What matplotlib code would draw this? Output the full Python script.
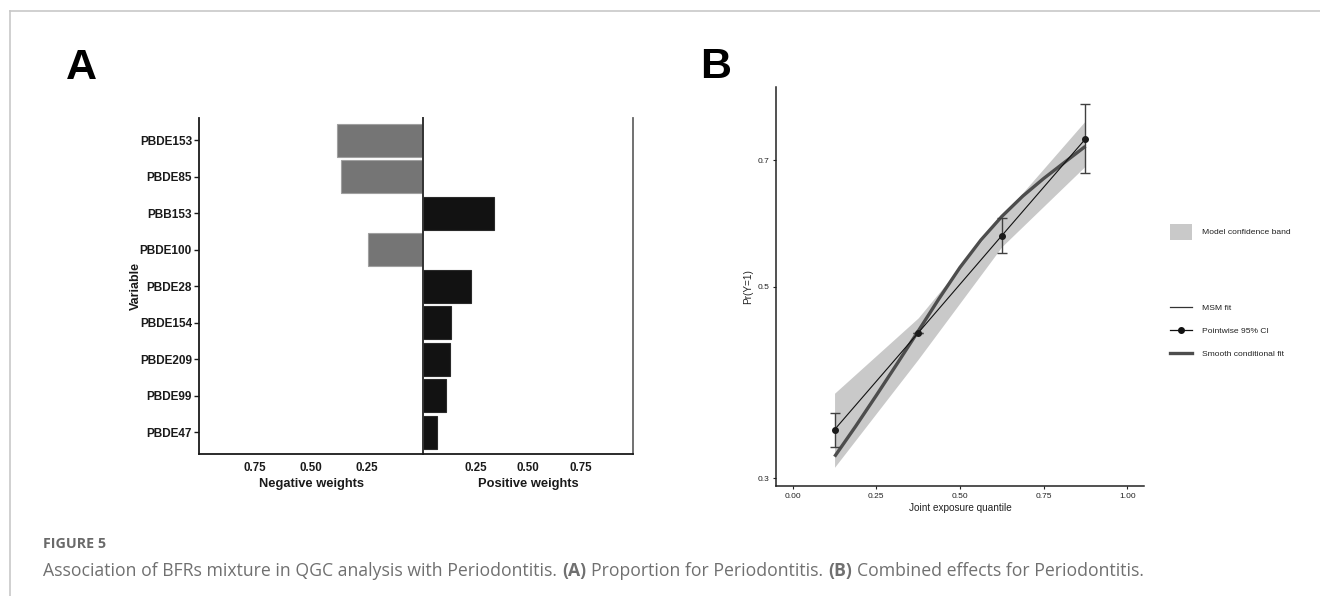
import matplotlib

matplotlib.use("Agg")
import matplotlib.pyplot as plt
import numpy as np
from matplotlib.lines import Line2D
from matplotlib.patches import Patch

# === Data ===

# Panel A: qgcomp weights
variables = ["PBDE153", "PBDE85", "PBB153", "PBDE100", "PBDE28",
             "PBDE154", "PBDE209", "PBDE99", "PBDE47"]
neg_vars = ["PBDE153", "PBDE85", "PBDE100"]
neg_w = [0.385, 0.366, 0.249]
pos_vars = ["PBB153", "PBDE28", "PBDE154", "PBDE209", "PBDE99", "PBDE47"]
pos_w = [0.340, 0.229, 0.131, 0.126, 0.108, 0.066]
weight_ticks = [0.25, 0.50, 0.75]

# Panel B: combined effect (log scale y)
quantiles = [0.125, 0.375, 0.625, 0.875]
pr_hat = [0.3415, 0.4420, 0.5728, 0.7413]
ci_low = [0.3261, 0.4420, 0.5469, 0.6763]
ci_high = [0.3573, 0.4420, 0.5999, 0.8134]
band_low = [0.3089, 0.412, 0.5562, 0.6897]
band_high = [0.3763, 0.460, 0.6025, 0.7781]
smooth_q = [0.125, 0.1875, 0.25, 0.3125, 0.375, 0.4375, 0.5,
            0.5625, 0.625, 0.6875, 0.75, 0.8125, 0.875]
smooth_pr = [0.3178, 0.3443, 0.3742, 0.4074, 0.4440, 0.4844, 0.5263,
             0.5661, 0.6029, 0.6364, 0.6670, 0.6964, 0.7269]
x_ticks_b = [0.00, 0.25, 0.50, 0.75, 1.00]
y_ticks_b = [0.3, 0.5, 0.7]

caption_title = "FIGURE 5"
caption_parts = [
    ("Association of BFRs mixture in QGC analysis with Periodontitis.", "normal"),
    ("(A)", "bold"),
    ("Proportion for Periodontitis.", "normal"),
    ("(B)", "bold"),
    ("Combined effects for Periodontitis.", "normal"),
]

NARROW = ["Liberation Sans Narrow", "Liberation Sans", "DejaVu Sans"]
SANS = ["Liberation Sans", "DejaVu Sans"]

W, H = 1320, 596
fig = plt.figure(figsize=(W / 100, H / 100), dpi=100)


def fx(px):
    return px / W


def fy(py):
    return 1 - py / H


# === Panel A ===
a_top, a_bot = 118.3, 454.0
a_rect_y = fy(a_bot)
a_h = (a_bot - a_top) / H
axL = fig.add_axes([fx(199.3), a_rect_y, fx(224.0), a_h])
axR = fig.add_axes([fx(423.3), a_rect_y, fx(209.4), a_h])

row = {v: i for i, v in enumerate(variables)}
axL.barh([row[v] for v in neg_vars], neg_w, height=0.9,
         color="#757575", edgecolor="#a0a0a0", linewidth=0.8)
axR.barh([row[v] for v in pos_vars], pos_w, height=0.9,
         color="#121212", edgecolor="#2a2a2a", linewidth=0.8)

for ax in (axL, axR):
    ax.set_ylim(len(variables) - 0.4, -0.6)
    ax.set_xticks(weight_ticks, [f"{t:.2f}" for t in weight_ticks])
    ax.tick_params(axis="x", length=0, pad=6)
    for lab in ax.get_xticklabels():
        lab.set_family(NARROW)
        lab.set_fontweight("bold")
        lab.set_fontsize(8.3)
        lab.set_color("#1a1a1a")
    ax.spines["top"].set_visible(False)
    ax.spines["bottom"].set_linewidth(1.3)
    ax.spines["bottom"].set_color("#1a1a1a")

axL.set_xlim(1, 0)
axR.set_xlim(0, 1)

axL.spines["right"].set_visible(False)
axL.spines["left"].set_linewidth(1.3)
axL.spines["left"].set_color("#1a1a1a")
axL.set_yticks(range(len(variables)), variables)
axL.tick_params(axis="y", length=3.8, width=1.0, pad=1.5, color="#1a1a1a")
for lab in axL.get_yticklabels():
    lab.set_family(NARROW)
    lab.set_fontweight("bold")
    lab.set_fontsize(8.5)
    lab.set_color("#1a1a1a")

axR.set_yticks([])
axR.spines["left"].set_linewidth(1.4)
axR.spines["left"].set_color("#333333")
axR.spines["right"].set_linewidth(1.3)
axR.spines["right"].set_color("#666666")

axL.set_xlabel("Negative weights", family=NARROW, fontweight="bold",
               fontsize=9.3, labelpad=2.5, color="#1a1a1a")
axR.set_xlabel("Positive weights", family=NARROW, fontweight="bold",
               fontsize=9.3, labelpad=2.5, color="#1a1a1a")
axL.set_ylabel("Variable", family=SANS, fontweight="bold", fontsize=9,
               color="#1a1a1a")
axL.yaxis.set_label_coords(-0.256, 0.5)

# === Panel B ===
b_top, b_bot = 86.7, 485.7
axB = fig.add_axes([fx(776.0), fy(b_bot), fx(368.0), (b_bot - b_top) / H])
axB.set_yscale("log")
axB.fill_between(quantiles, band_low, band_high, color="#c9c9c9", linewidth=0)
axB.plot(smooth_q, smooth_pr, color="#4d4d4d", linewidth=2.4,
         solid_capstyle="butt", solid_joinstyle="round")
axB.plot(quantiles, pr_hat, color="#111111", linewidth=0.8)
yerr = [np.array(pr_hat) - np.array(ci_low), np.array(ci_high) - np.array(pr_hat)]
axB.errorbar(quantiles, pr_hat, yerr=yerr, fmt="o", color="#1a1a1a",
             markersize=4, ecolor="#404040", elinewidth=1.0, capsize=3.6,
             capthick=1.0)

axB.set_xlim(-0.05, 1.05)
axB.set_ylim(0.2941, 0.852)
axB.set_xticks(x_ticks_b, [f"{t:.2f}" for t in x_ticks_b])
axB.yaxis.set_minor_locator(matplotlib.ticker.NullLocator())
axB.set_yticks(y_ticks_b, [f"{t:.1f}" for t in y_ticks_b])
axB.tick_params(axis="both", length=2.4, width=0.8, pad=2.5, color="#222222",
                labelsize=6, labelcolor="#222222")
for lab in axB.get_xticklabels() + axB.get_yticklabels():
    lab.set_family(NARROW)
for s in ("top", "right"):
    axB.spines[s].set_visible(False)
for s in ("left", "bottom"):
    axB.spines[s].set_linewidth(1.1)
    axB.spines[s].set_color("#222222")

axB.set_xlabel("Joint exposure quantile", family=NARROW, fontsize=7.2,
               labelpad=2.5, color="#222222")
axB.set_ylabel("Pr(Y=1)", family=NARROW, fontsize=7.2, color="#222222")
axB.yaxis.set_label_coords(-0.062, 0.5)

leg_fs = 6.1
leg_px = leg_fs * 100 / 72
leg1 = fig.legend(
    handles=[Patch(facecolor="#c9c9c9", edgecolor="none")],
    labels=["Model confidence band"],
    loc="center left", bbox_to_anchor=(fx(1170), fy(231.7)),
    frameon=False, borderpad=0, borderaxespad=0,
    handlelength=22 / leg_px, handleheight=22 / leg_px,
    handletextpad=9.6 / leg_px, prop={"family": NARROW, "size": leg_fs},
)
leg2 = fig.legend(
    handles=[
        Line2D([], [], color="#333333", linewidth=0.9),
        Line2D([], [], color="#111111", linewidth=0.9, marker="o", markersize=4),
        Line2D([], [], color="#4d4d4d", linewidth=2.4),
    ],
    labels=["MSM fit", "Pointwise 95% CI", "Smooth conditional fit"],
    loc="center left", bbox_to_anchor=(fx(1170), fy(330.7)),
    frameon=False, borderpad=0, borderaxespad=0,
    handlelength=22 / leg_px, handleheight=1.0, labelspacing=1.7,
    handletextpad=9.6 / leg_px, prop={"family": NARROW, "size": leg_fs},
)
for leg in (leg1, leg2):
    for t in leg.get_texts():
        t.set_color("#222222")

# === Panel letters ===
fig.text(fx(66), fy(79), "A", family=SANS, fontweight="bold", fontsize=31,
         va="baseline", ha="left")
fig.text(fx(700.5), fy(77.7), "B", family=SANS, fontweight="bold", fontsize=31,
         va="baseline", ha="left")

# === Caption and frame ===
fig.add_artist(Line2D([fx(10), fx(10)], [0, fy(11)], transform=fig.transFigure,
                      color="#c8c8c8", linewidth=1.2))
fig.add_artist(Line2D([fx(10), 1], [fy(11), fy(11)], transform=fig.transFigure,
                      color="#c8c8c8", linewidth=1.2))

cap_font = ["Open Sans", "DejaVu Sans"]
fig.text(fx(43.3), fy(544), caption_title, family=cap_font, fontweight="bold",
         fontsize=10.3, color="#6a6a6a", va="center", ha="left")

cap_size = 12.7
prev = None
for txt, weight in caption_parts:
    if prev is None:
        prev = fig.text(fx(43.3), fy(580), txt, family=cap_font, fontweight=weight,
                        fontsize=cap_size, color="#707070", va="bottom", ha="left")
    else:
        prev = fig.add_artist(
            matplotlib.text.Annotation(
                txt, xy=(1, 0), xycoords=prev, xytext=(3.5, 0),
                textcoords="offset points", va="bottom", ha="left",
                family=cap_font, fontweight=weight, fontsize=cap_size,
                color="#707070",
            )
        )

fig.savefig("out.png", dpi=100)
